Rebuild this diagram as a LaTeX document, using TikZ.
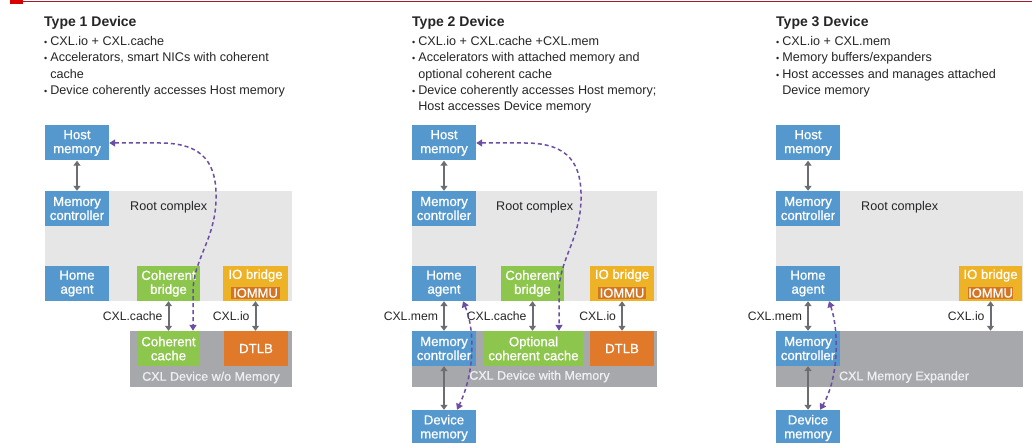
\documentclass[tikz,border=0pt]{standalone}
\usepackage{fontspec}
\setmainfont{Liberation Sans}
\newfontfamily\boxfont[FakeBold=0.8]{Liberation Sans}
\usepackage{tikz}
\usetikzlibrary{arrows.meta,positioning,calc}

\definecolor{boxblue}{RGB}{84,152,206}
\definecolor{boxgreen}{RGB}{141,198,76}
\definecolor{bridgeyellow}{RGB}{238,178,38}
\definecolor{mmuorange}{RGB}{210,118,38}
\definecolor{tlborange}{RGB}{224,122,42}
\definecolor{rootgrey}{RGB}{230,230,231}
\definecolor{devgrey}{RGB}{166,168,172}
\definecolor{devtext}{RGB}{238,239,242}
\definecolor{arrowgrey}{RGB}{108,109,114}
\definecolor{linkpurple}{RGB}{108,78,164}
\definecolor{textdark}{RGB}{38,38,40}
\definecolor{topred}{RGB}{166,25,46}

\newcommand{\itemdot}{{\fontsize{9}{9}\selectfont\textbullet}}

\tikzset{
  blk/.style={inner sep=0pt, minimum width=64pt, minimum height=35pt, text=white, align=center, font=\boxfont\fontsize{13.2}{14}\selectfont},
  memblk/.style={blk, fill=boxblue},
  cohblk/.style={blk, fill=boxgreen, minimum width=63pt},
  iobox/.style={blk, fill=bridgeyellow},
  tlbbox/.style={blk, fill=tlborange},
  mmubox/.style={inner sep=0pt, minimum width=48pt, minimum height=12.5pt, fill=mmuorange, text=white, font=\boxfont\fontsize{13}{13}\selectfont},
  rootarea/.style={fill=rootgrey, inner sep=0pt, minimum width=247pt, minimum height=110pt},
  devarea/.style={fill=devgrey, inner sep=0pt, minimum width=245pt, minimum height=56pt},
  rclabel/.style={anchor=west, inner sep=0pt, text=textdark},
  devlabel/.style={inner sep=0pt, text=devtext, font=\boxfont\fontsize{12.5}{14}\selectfont},
  lbl/.style={inner sep=1pt, text=textdark, font=\fontsize{12.2}{14}\selectfont},
  devtitle/.style={anchor=base west, inner sep=0pt, text=textdark, font=\fontsize{14}{16}\selectfont\bfseries},
  bulletlist/.style={anchor=north west, inner sep=0pt, text=textdark},
  bus/.style={draw=arrowgrey, line width=2pt, {Triangle[width=7pt,length=5pt]}-{Triangle[width=7pt,length=5pt]}},
  link/.style={draw=linkpurple, line width=1.5pt, dash pattern=on 4pt off 3pt, {Triangle[width=7pt,length=6pt]}-{Triangle[width=7pt,length=6pt]}}
}

\begin{document}
\begin{tikzpicture}[x=1pt, y=-1pt, font=\fontsize{12.6}{16.3}\selectfont]
    \useasboundingbox (0,0) rectangle (1032,443);
    \fill[white] (0,0) rectangle (1032,443);

    % Top rule
    \draw[topred, line width=1pt] (23,1.5) -- (1032,1.5);
    \fill[red!85!black] (10,0.5) rectangle (23,4);

    % Type 1
    \node[devtitle] (title1) at (44,27) {Type 1 Device};
    \node[bulletlist] (list1) at (44,34) {\begin{tabular}{@{}l@{\hspace{3pt}}l@{}}
        \itemdot & CXL.io + CXL.cache\\
        \itemdot & Accelerators, smart NICs with coherent\\
                 & cache\\
        \itemdot & Device coherently accesses Host memory
    \end{tabular}};

    \node[rootarea] (rc1) at (168.5,246) {};
    \node[rclabel] (rcl1) at (130,207) {Root complex};
    \node[memblk] (host1) at (77,143) {Host\\memory};
    \node[memblk] (mc1) at (77,208.5) {Memory\\controller};
    \node[memblk] (home1) at (77,283.5) {Home\\agent};
    \node[cohblk] (cb1) at (168.5,283.5) {Coherent\\bridge};
    \node[iobox, minimum width=65pt] (io1) at (255.5,283.5) {};
    \node[blk, minimum size=0pt] (iot1) at ([yshift=8pt]io1.center) {IO bridge};
    \node[mmubox, minimum width=49pt] (mmu1) at (255.5,293) {IOMMU};

    \node[devarea, minimum width=162pt] (dev1) at (211,359) {};
    \node[cohblk] (cc1) at (168.5,348.5) {Coherent\\cache};
    \node[tlbbox] (tlb1) at (256,348.5) {DTLB};
    \node[devlabel] (devl1) at (211,377.5) {CXL Device w/o Memory};

    \draw[bus] (host1) -- (mc1);
    \draw[bus] (cb1) -- node[lbl, left=4pt] (lcache1) {CXL.cache} (cc1);
    \draw[bus] (io1.south) -- node[lbl, left=4pt] (lio1) {CXL.io} (io1.south |- tlb1.north);
    \draw[link] (host1.east) -- (160,143) .. controls (205,143) and (217,165) .. (216,200)
        .. controls (215,240) and (193,260) .. (193,292) -- ([xshift=24.5pt]cc1.north);

    % Type 2
    \node[devtitle] (title2) at (412,27) {Type 2 Device};
    \node[bulletlist] (list2) at (412,34) {\begin{tabular}{@{}l@{\hspace{3pt}}l@{}}
        \itemdot & CXL.io + CXL.cache +CXL.mem\\
        \itemdot & Accelerators with attached memory and\\
                 & optional coherent cache\\
        \itemdot & Device coherently accesses Host memory;\\
                 & Host accesses Device memory
    \end{tabular}};

    \node[rootarea, minimum width=245pt] (rc2) at (534.5,246) {};
    \node[rclabel] (rcl2) at (496,207) {Root complex};
    \node[memblk] (host2) at (444,143) {Host\\memory};
    \node[memblk] (mc2) at (444,208.5) {Memory\\controller};
    \node[memblk] (home2) at (444,283.5) {Home\\agent};
    \node[cohblk] (cb2) at (532.5,283.5) {Coherent\\bridge};
    \node[iobox] (io2) at (622,283.5) {};
    \node[blk, minimum size=0pt] (iot2) at ([yshift=8pt]io2.center) {IO bridge};
    \node[mmubox] (mmu2) at (622,293) {IOMMU};

    \node[devarea] (dev2) at (534.5,359) {};
    \node[memblk] (dmc2) at (444,348.5) {Memory\\controller};
    \node[cohblk, minimum width=99pt] (occ2) at (533.5,348.5) {Optional\\coherent cache};
    \node[tlbbox] (tlb2) at (622,348.5) {DTLB};
    \node[devlabel] (devl2) at (539.5,376.5) {CXL Device with Memory};
    \node[memblk, minimum height=36pt] (dm2) at (444,428) {Device\\memory};

    \draw[bus] (host2) -- (mc2);
    \draw[bus] (home2) -- node[lbl, left=4pt] (lmem2) {CXL.mem} (dmc2);
    \draw[bus] (cb2.south) -- node[lbl, left=4pt] (lcache2) {CXL.cache} (cb2.south |- occ2.north);
    \draw[bus] (io2) -- node[lbl, left=4pt] (lio2) {CXL.io} (tlb2);
    \draw[bus] (dmc2) -- (dm2);
    \draw[link] (host2.east) -- (525,143) .. controls (570,143) and (582,165) .. (581,200)
        .. controls (580,240) and (559,260) .. (559,292) -- ([xshift=25.5pt]occ2.north);
    \draw[link] ([xshift=19pt]home2.south) .. controls (475,330) and (475,372) .. ([xshift=13pt]dm2.north);

    % Type 3
    \node[devtitle] (title3) at (776,27) {Type 3 Device};
    \node[bulletlist] (list3) at (776,34) {\begin{tabular}{@{}l@{\hspace{3pt}}l@{}}
        \itemdot & CXL.io + CXL.mem\\
        \itemdot & Memory buffers/expanders\\
        \itemdot & Host accesses and manages attached\\
                 & Device memory
    \end{tabular}};

    \node[rootarea] (rc3) at (899.5,246) {};
    \node[rclabel] (rcl3) at (861,207) {Root complex};
    \node[memblk] (host3) at (808,143) {Host\\memory};
    \node[memblk] (mc3) at (808,208.5) {Memory\\controller};
    \node[memblk] (home3) at (808,283.5) {Home\\agent};
    \node[iobox, minimum width=63pt] (io3) at (990.5,283.5) {};
    \node[blk, minimum size=0pt] (iot3) at ([yshift=8pt]io3.center) {IO bridge};
    \node[mmubox, minimum width=45pt] (mmu3) at (990.5,293) {IOMMU};

    \node[devarea, minimum width=247pt] (dev3) at (899.5,359) {};
    \node[memblk] (dmc3) at (808,348.5) {Memory\\controller};
    \node[devlabel] (devl3) at (904,377) {CXL Memory Expander};
    \node[memblk, minimum height=36pt] (dm3) at (808,428) {Device\\memory};

    \draw[bus] (host3) -- (mc3);
    \draw[bus] (home3) -- node[lbl, left=4pt] (lmem3) {CXL.mem} (dmc3);
    \draw[bus] (io3.south) -- node[lbl, left=4pt] (lio3) {CXL.io} (io3.south |- dev3.north);
    \draw[bus] (dmc3) -- (dm3);
    \draw[link] ([xshift=21pt]home3.south) .. controls (839,330) and (839,378) .. ([xshift=12pt]dm3.north);
\end{tikzpicture}
\end{document}
